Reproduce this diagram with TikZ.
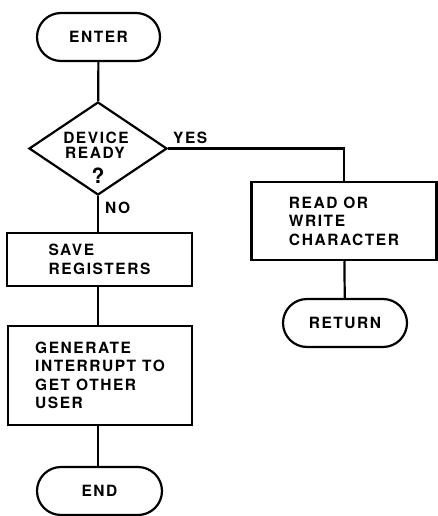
\documentclass[tikz,border=0pt]{standalone}
\usepackage{fontspec}
\setmainfont{TeX Gyre Heros}[LetterSpace=10]
\usetikzlibrary{shapes.geometric}
\tikzset{
  lw/.style={line width=2.2pt},
  txt/.style={font=\fontsize{15.5}{18.5}\selectfont\bfseries},
  term/.style={lw, draw, txt, rounded corners=24pt, minimum height=48pt, inner sep=0pt},
  proc/.style={lw, draw, txt, align=left, inner sep=0pt},
  dec/.style={lw, draw, diamond, inner sep=0pt, minimum width=138pt, minimum height=93pt},
  lab/.style={txt, inner sep=0pt},
  conn/.style={lw}
}
\begin{document}
\begin{tikzpicture}[x=1pt,y=-1pt]
\useasboundingbox (0,0) rectangle (438,516);
\node[term, minimum width=123pt] (enter) at (98.5,37) {ENTER};
\node[dec] (dev) at (98,148.5) {};
\node[lab, anchor=base] (devt1) at (96,143) {DEVICE};
\node[lab, anchor=base] (devt2) at (95,158) {READY};
\node[lab, anchor=base, font=\fontsize{21}{21}\selectfont\bfseries] (devq) at (98,183) {?};
\node[proc, minimum width=185pt, minimum height=53pt] (save) at (99.5,259.5) {SAVE\\REGISTERS};
\node[proc, minimum width=184pt, minimum height=99pt] (gen) at (100,375.5) {GENERATE\\INTERRUPT TO\\GET OTHER\\USER};
\node[term, minimum width=125pt] (end) at (99.5,491) {END};
\node[proc, minimum width=185pt, minimum height=78pt] (rw) at (344,221) {READ OR\\WRITE\\CHARACTER};
\node[term, minimum width=124pt] (ret) at (345,323) {RETURN};
\node[lab, anchor=base west] (yes) at (173,143) {YES};
\node[lab, anchor=base west] (no) at (105,213) {NO};
\coordinate (corner) at (rw.north |- dev.east);
\draw[conn] (enter) -- (dev);
\draw[conn] (dev.south) -- (save.north -| dev.south);
\draw[conn] (save.south -| dev.south) -- (gen.north -| dev.south);
\draw[conn] (gen.south -| dev.south) -- (end.north -| dev.south);
\draw[conn] (dev.east) -- (corner) -- (rw.north);
\draw[conn] (rw) -- (ret);
\end{tikzpicture}
\end{document}
